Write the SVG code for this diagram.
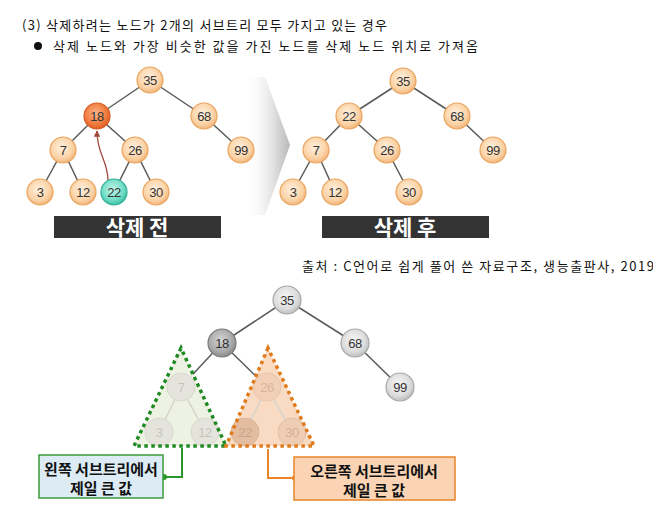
<svg xmlns="http://www.w3.org/2000/svg" width="653" height="524" viewBox="0 0 653 524">
<defs>
<radialGradient id="gOr" cx="45%" cy="40%" r="60%"><stop offset="0" stop-color="#fff1e0"/><stop offset="0.7" stop-color="#fbd3a6"/><stop offset="1" stop-color="#f2b47a"/></radialGradient>
<radialGradient id="gRed" cx="45%" cy="40%" r="60%"><stop offset="0" stop-color="#fbb48a"/><stop offset="0.7" stop-color="#f07a3c"/><stop offset="1" stop-color="#de5f22"/></radialGradient>
<radialGradient id="gTeal" cx="45%" cy="40%" r="60%"><stop offset="0" stop-color="#c4f5ea"/><stop offset="0.7" stop-color="#6fdcc5"/><stop offset="1" stop-color="#3dbfa3"/></radialGradient>
<radialGradient id="gGray" cx="45%" cy="40%" r="60%"><stop offset="0" stop-color="#f7f7f7"/><stop offset="0.7" stop-color="#dcdcdc"/><stop offset="1" stop-color="#bdbdbd"/></radialGradient>
<radialGradient id="gDark" cx="45%" cy="40%" r="60%"><stop offset="0" stop-color="#d6d6d6"/><stop offset="0.7" stop-color="#a8a8a8"/><stop offset="1" stop-color="#8a8a8a"/></radialGradient>
<linearGradient id="gChev" x1="0" y1="0" x2="1" y2="0"><stop offset="0" stop-color="#ffffff" stop-opacity="0"/><stop offset="0.6" stop-color="#e4e4e4"/><stop offset="1" stop-color="#b8b8b8"/></linearGradient>
<marker id="ah" viewBox="0 0 10 10" refX="9" refY="5" markerWidth="5" markerHeight="5" orient="auto"><path d="M0,0 L10,5 L0,10 z" fill="#a04a3c"/></marker>
</defs>
<style>
.t{font-family:"Noto Sans CJK KR","Noto Sans",sans-serif;fill:#111}
.e{stroke:#5a5a5a;stroke-width:1.5;fill:none}
.ef{stroke:#d4d4cc;stroke-width:1.5;fill:none}
.n{font-family:"Liberation Sans",Arial,sans-serif;font-size:13px;fill:#333;text-anchor:middle;letter-spacing:-0.6px}
.or{fill:url(#gOr);stroke:#e9a45e;stroke-width:1.2}
.gr{fill:url(#gGray);stroke:#a8a8a8;stroke-width:1.2}
.fd{fill:#e4e4dc;stroke:#d8d8d0;stroke-width:1}
.nf{font-family:"Liberation Sans",Arial,sans-serif;font-size:13px;fill:#c4c4bc;text-anchor:middle;letter-spacing:-0.6px}
.lb{fill:#333333}
.lt{font-family:"Noto Sans CJK KR",sans-serif;font-weight:bold;font-size:21px;fill:#fff;text-anchor:middle}
.bt{font-family:"Noto Sans CJK KR",sans-serif;font-weight:bold;font-size:15px;fill:#111;text-anchor:middle}
</style>
<rect width="653" height="524" fill="#fff"/>
<text class="t" x="22" y="30" font-size="13" textLength="365">(3) 삭제하려는 노드가 2개의 서브트리 모두 가지고 있는 경우</text>
<circle cx="38" cy="46" r="4" fill="#111"/>
<text class="t" x="53" y="51" font-size="13" textLength="425">삭제 노드와 가장 비슷한 값을 가진 노드를 삭제 노드 위치로 가져옴</text>

<polygon points="245,77 265,77 290,145 265,215 245,215" fill="url(#gChev)"/>

<g id="connectors">
<line class="e" x1="150" y1="80" x2="97" y2="116"/>
<line class="e" x1="150" y1="80" x2="204" y2="116"/>
<line class="e" x1="97" y1="116" x2="63" y2="150"/>
<line class="e" x1="97" y1="116" x2="135" y2="150"/>
<line class="e" x1="204" y1="116" x2="241" y2="150"/>
<line class="e" x1="63" y1="150" x2="40" y2="192"/>
<line class="e" x1="63" y1="150" x2="83" y2="192"/>
<line class="e" x1="135" y1="150" x2="114" y2="192"/>
<line class="e" x1="135" y1="150" x2="156" y2="192"/>
<path d="M108,181 C108,160 97,155 97,131" stroke="#a04a3c" stroke-width="1.3" fill="none" marker-end="url(#ah)"/>

<line class="e" x1="403" y1="81" x2="349" y2="116"/>
<line class="e" x1="403" y1="81" x2="457" y2="116"/>
<line class="e" x1="349" y1="116" x2="316" y2="150"/>
<line class="e" x1="349" y1="116" x2="387" y2="150"/>
<line class="e" x1="457" y1="116" x2="493" y2="150"/>
<line class="e" x1="316" y1="150" x2="293" y2="192"/>
<line class="e" x1="316" y1="150" x2="335" y2="192"/>
<line class="e" x1="387" y1="150" x2="409" y2="192"/>

<line class="e" x1="287" y1="300" x2="222" y2="343"/>
<line class="e" x1="287" y1="300" x2="355" y2="343"/>
<line class="e" x1="355" y1="343" x2="400" y2="387"/>
<line class="e" x1="222" y1="343" x2="181" y2="387"/>
<line class="e" x1="222" y1="343" x2="267" y2="387"/>
</g>

<g id="top-left-tree">
<g id="n35a"><circle class="or" cx="150" cy="80" r="13"/><text class="n" x="150" y="85">35</text></g>
<g id="n18a"><circle cx="97" cy="116" r="13" fill="url(#gRed)" stroke="#d65b22" stroke-width="1.2"/><text class="n" x="97" y="121">18</text></g>
<g id="n68a"><circle class="or" cx="204" cy="116" r="13"/><text class="n" x="204" y="121">68</text></g>
<g id="n7a"><circle class="or" cx="63" cy="150" r="13"/><text class="n" x="63" y="155">7</text></g>
<g id="n26a"><circle class="or" cx="135" cy="150" r="13"/><text class="n" x="135" y="155">26</text></g>
<g id="n99a"><circle class="or" cx="241" cy="150" r="13"/><text class="n" x="241" y="155">99</text></g>
<g id="n3a"><circle class="or" cx="40" cy="192" r="13"/><text class="n" x="40" y="197">3</text></g>
<g id="n12a"><circle class="or" cx="83" cy="192" r="13"/><text class="n" x="83" y="197">12</text></g>
<g id="n22a"><circle cx="114" cy="192" r="13" fill="url(#gTeal)" stroke="#2fae93" stroke-width="1.2"/><text class="n" x="114" y="197">22</text></g>
<g id="n30a"><circle class="or" cx="156" cy="192" r="13"/><text class="n" x="156" y="197">30</text></g>
</g>
<g id="label-before"><rect class="lb" x="54" y="216" width="167" height="22"/><text class="lt" x="137" y="235">삭제 전</text></g>

<g id="top-right-tree">
<g id="n35b"><circle class="or" cx="403" cy="81" r="13"/><text class="n" x="403" y="86">35</text></g>
<g id="n22b"><circle class="or" cx="349" cy="116" r="13"/><text class="n" x="349" y="121">22</text></g>
<g id="n68b"><circle class="or" cx="457" cy="116" r="13"/><text class="n" x="457" y="121">68</text></g>
<g id="n7b"><circle class="or" cx="316" cy="150" r="13"/><text class="n" x="316" y="155">7</text></g>
<g id="n26b"><circle class="or" cx="387" cy="150" r="13"/><text class="n" x="387" y="155">26</text></g>
<g id="n99b"><circle class="or" cx="493" cy="150" r="13"/><text class="n" x="493" y="155">99</text></g>
<g id="n3b"><circle class="or" cx="293" cy="192" r="13"/><text class="n" x="293" y="197">3</text></g>
<g id="n12b"><circle class="or" cx="335" cy="192" r="13"/><text class="n" x="335" y="197">12</text></g>
<g id="n30b"><circle class="or" cx="409" cy="192" r="13"/><text class="n" x="409" y="197">30</text></g>
</g>
<g id="label-after"><rect class="lb" x="322" y="216" width="167" height="22"/><text class="lt" x="405" y="235">삭제 후</text></g>

<text class="t" x="302" y="271" font-size="13" textLength="352">출처 : C언어로 쉽게 풀어 쓴 자료구조, 생능출판사, 2019</text>

<g id="bottom-tree">
<g id="n35c"><circle class="gr" cx="287" cy="300" r="14"/><text class="n" x="287" y="305">35</text></g>
<g id="n18c"><circle cx="222" cy="343" r="14" fill="url(#gDark)" stroke="#7a7a7a" stroke-width="1.2"/><text class="n" x="222" y="348">18</text></g>
<g id="n68c"><circle class="gr" cx="355" cy="343" r="14"/><text class="n" x="355" y="348">68</text></g>
<g id="n99c"><circle class="gr" cx="400" cy="387" r="14"/><text class="n" x="400" y="392">99</text></g>
</g>

<g id="left-subtree">
<polygon points="181,348 134,446 226,446" fill="#eef2e2"/>
<line class="ef" x1="181" y1="387" x2="159" y2="432"/>
<line class="ef" x1="181" y1="387" x2="205" y2="432"/>
<g id="n7c"><circle class="fd" cx="181" cy="387" r="14"/><text class="nf" x="181" y="392">7</text></g>
<g id="n3c"><circle class="fd" cx="159" cy="432" r="14"/><text class="nf" x="159" y="437">3</text></g>
<g id="n12c"><circle class="fd" cx="205" cy="432" r="14"/><text class="nf" x="205" y="437">12</text></g>
<polygon points="181,348 134,446 226,446" fill="none" stroke="#1f8a24" stroke-width="3.5" stroke-dasharray="3.5,3.5"/>
</g>

<g id="right-subtree">
<polygon points="268,348 226,446 314,446" fill="#f8d4b8" fill-opacity="0.85"/>
<line class="ef" x1="267" y1="387" x2="245" y2="432" stroke="#e6c4ac"/>
<line class="ef" x1="267" y1="387" x2="292" y2="432" stroke="#e6c4ac"/>
<g id="n26c"><circle cx="267" cy="387" r="14" fill="#f2d0b8" stroke="#e8c6ae"/><text class="nf" x="267" y="392" style="fill:#d8b69e">26</text></g>
<g id="n22c"><circle cx="245" cy="432" r="14" fill="#e4bca0" stroke="#dcb498"/><text class="nf" x="245" y="437" style="fill:#c8a68e">22</text></g>
<g id="n30c"><circle cx="292" cy="432" r="14" fill="#efcdb4" stroke="#e4c2aa"/><text class="nf" x="292" y="437" style="fill:#d2b098">30</text></g>
<polygon points="268,348 226,446 314,446" fill="none" stroke="#e07b1c" stroke-width="3.5" stroke-dasharray="3.5,3.5"/>
</g>

<g id="callouts">
<polyline points="182,448 182,477 164,477" fill="none" stroke="#2a962c" stroke-width="2"/>
<circle cx="164" cy="477" r="3" fill="#2a962c"/>
<polyline points="268,449 268,478 295,478" fill="none" stroke="#e8852a" stroke-width="2"/>
<circle cx="295" cy="478" r="3" fill="#e8852a"/>
</g>
<g id="label-left"><rect x="39" y="455" width="124" height="43" fill="#dcebf4" stroke="#3a9a3a" stroke-width="1.5"/><text class="bt" x="101" y="475">왼쪽 서브트리에서</text><text class="bt" x="101" y="494">제일 큰 값</text></g>
<g id="label-right"><rect x="294" y="457" width="161" height="43" fill="#fad4b4" stroke="#e8852a" stroke-width="1.5"/><text class="bt" x="374" y="477">오른쪽 서브트리에서</text><text class="bt" x="374" y="496">제일 큰 값</text></g>
</svg>
